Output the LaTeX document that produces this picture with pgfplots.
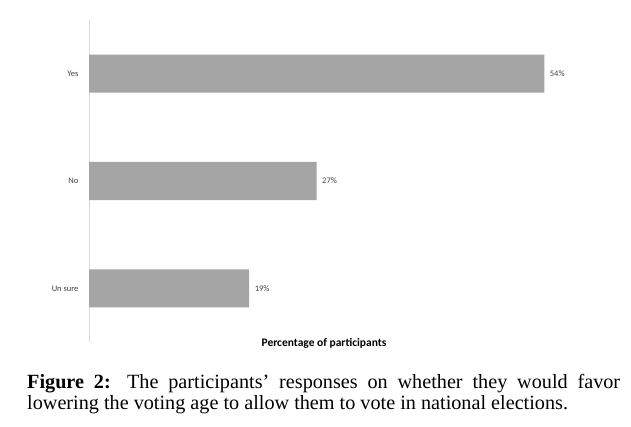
\documentclass[border=0pt]{standalone}
\usepackage{pgfplots}
\pgfplotsset{compat=1.18}
\usepackage{fontspec}
\setmainfont{Liberation Serif}
\newfontfamily\chartfont{Carlito}
\definecolor{barcol}{HTML}{A5A5A5}
\definecolor{axcol}{HTML}{D9D9D9}
\definecolor{txtcol}{HTML}{404040}
\begin{document}
\begin{tikzpicture}[x=1pt,y=1pt]
\path (0,0) rectangle (631,426);
\begin{axis}[
  at={(89pt,84pt)}, anchor=south west,
  scale only axis, width=506pt, height=322pt,
  xbar, bar width=0.355,
  xmin=0, xmax=60, ymin=-0.5, ymax=2.5,
  axis x line=none,
  axis y line*=left,
  y axis line style={draw=axcol, line width=0.8pt, -},
  ytick={0,1,2}, yticklabels={Un sure,No,Yes},
  major tick length=0pt,
  yticklabel style={font=\chartfont\fontsize{8.5}{10}\selectfont, text=txtcol, xshift=-7pt},
  nodes near coords={\pgfmathprintnumber[assume math mode=true]{\pgfplotspointmeta}\%},
  every node near coord/.append style={font=\chartfont\fontsize{8.5}{10}\selectfont, text=txtcol, anchor=west, xshift=2pt},
  clip=false,
]
\addplot[fill=barcol, draw=none] coordinates {(19,0) (27,1) (54,2)};
\end{axis}
\node[font=\chartfont\bfseries\fontsize{11.5}{13}\selectfont, text=black] at (324,83) {Percentage of participants};
\node[anchor=base west, inner sep=0pt, text width=593pt, align=justify,
      font=\fontsize{20.2}{21}\selectfont] at (27,38)
  {\textbf{Figure 2:} The participants’ responses on whether they would favor\linebreak lowering the voting age to allow them to vote in national elections.};
\end{tikzpicture}
\end{document}
